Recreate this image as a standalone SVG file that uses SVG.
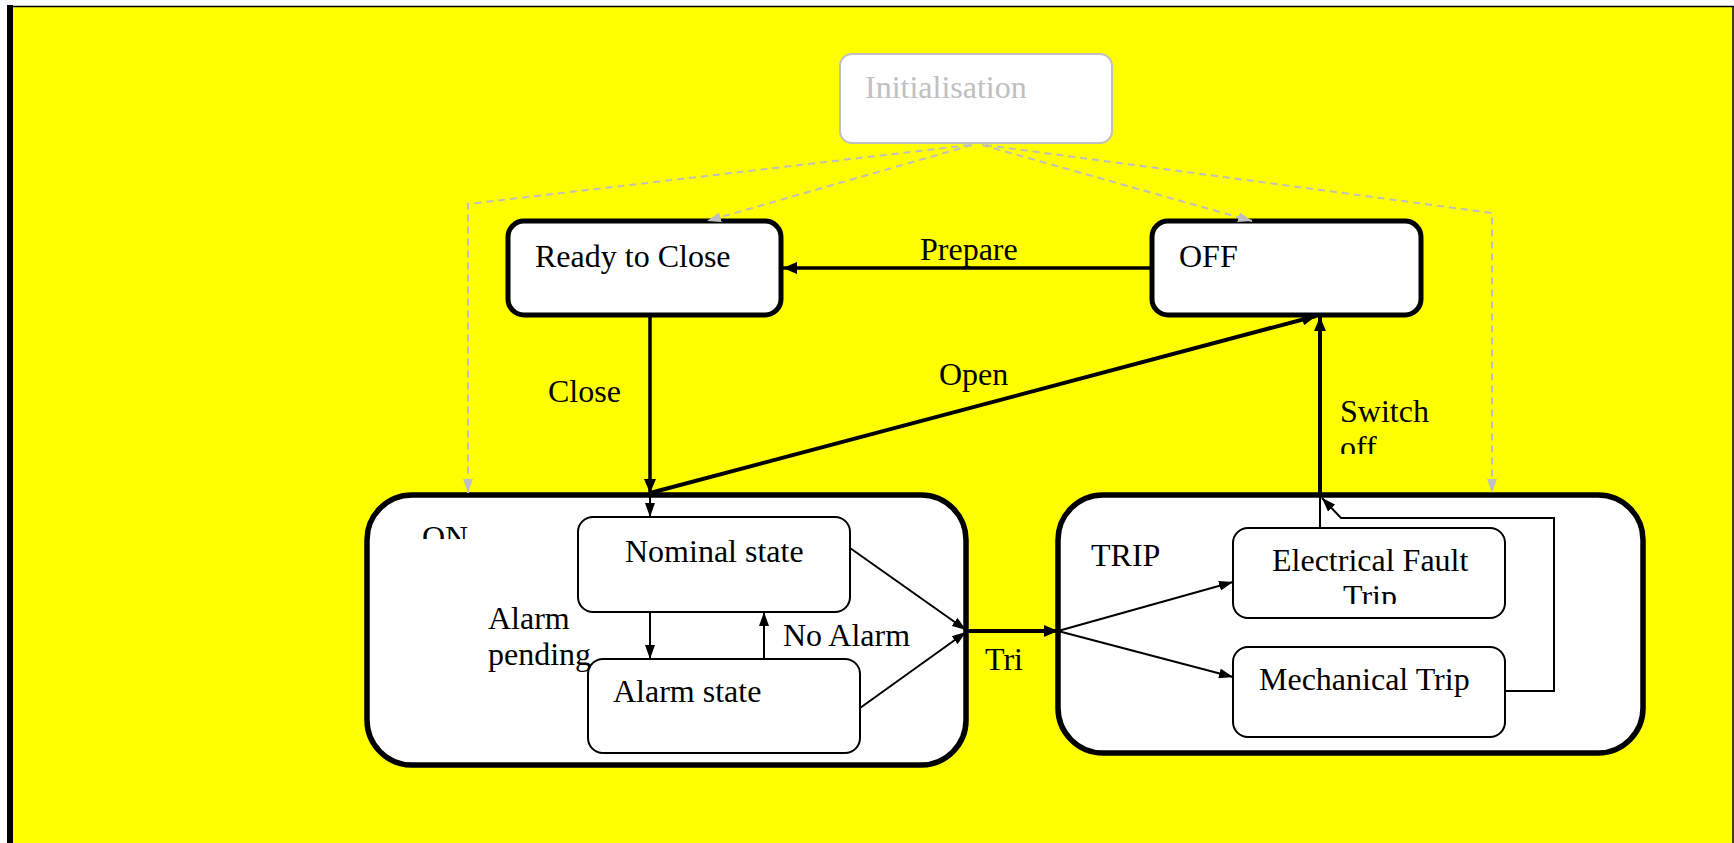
<svg xmlns="http://www.w3.org/2000/svg" width="1734" height="843" viewBox="0 0 1734 843">
<style>
text{font-family:"Liberation Serif","Times New Roman",serif;font-size:32px;fill:#000}
.big{fill:#fff;stroke:#000;stroke-width:5}
.comp{fill:#fff;stroke:#000;stroke-width:5.5}
.sub{fill:#fff;stroke:#000;stroke-width:2}
.c{fill:none;stroke:#000}
.d{fill:none;stroke:#c0c0c0;stroke-width:2;stroke-dasharray:7,5}
</style>
<defs>
<marker id="ab" viewBox="0 0 14 12" refX="14" refY="6" markerWidth="14" markerHeight="12" markerUnits="userSpaceOnUse" orient="auto"><path d="M0,0L14,6L0,12z" fill="#000"/></marker>
<marker id="as" viewBox="0 0 14 10" refX="14" refY="5" markerWidth="14" markerHeight="10" markerUnits="userSpaceOnUse" orient="auto"><path d="M0,0L14,5L0,10z" fill="#000"/></marker>
<marker id="ag" viewBox="0 0 14 10" refX="14" refY="5" markerWidth="14" markerHeight="10" markerUnits="userSpaceOnUse" orient="auto"><path d="M0,0L14,5L0,10z" fill="#c0c0c0"/></marker>
<clipPath id="clipON"><rect x="380" y="500" width="120" height="39"/></clipPath>
<clipPath id="clipEFT"><rect x="1240" y="540" width="260" height="64"/></clipPath>
<clipPath id="clipSW"><rect x="1330" y="380" width="120" height="74"/></clipPath>
</defs>
<rect x="0" y="0" width="1734" height="843" fill="#fff"/>
<rect x="13" y="6" width="1721" height="837" fill="#ffff00"/>
<rect x="7" y="5" width="6" height="838" fill="#000"/>
<line x1="13" y1="6.5" x2="1734" y2="6.5" stroke="#000" stroke-width="1.5"/>
<line x1="1733" y1="6" x2="1733" y2="843" stroke="#000" stroke-width="1.5"/>

<g id="init">
<rect x="840" y="54" width="272" height="89" rx="12" fill="#fff" stroke="#c0c0c0" stroke-width="2"/>
<text x="865" y="98" style="fill:#c0c0c0">Initialisation</text>
</g>
<g id="ready">
<rect class="big" x="508" y="221" width="273" height="94" rx="16"/>
<text x="535" y="267">Ready to Close</text>
</g>
<g id="off">
<rect class="big" x="1152" y="221" width="269" height="94" rx="16"/>
<text x="1179" y="267">OFF</text>
</g>
<g id="on">
<rect class="comp" x="367" y="495" width="599" height="270" rx="45"/>
<text x="422" y="548" clip-path="url(#clipON)">ON</text>
</g>
<g id="nominal">
<rect class="sub" x="578" y="517" width="272" height="95" rx="15"/>
<text x="625" y="562">Nominal state</text>
</g>
<g id="alarm">
<rect class="sub" x="588" y="659" width="272" height="94" rx="15"/>
<text x="613" y="702">Alarm state</text>
</g>
<g id="trip">
<rect class="comp" x="1058" y="495" width="585" height="258" rx="45"/>
<text x="1091" y="566">TRIP</text>
</g>
<g id="eft">
<rect class="sub" x="1233" y="528" width="272" height="90" rx="15"/>
<text x="1272" y="571">Electrical Fault</text>
<text x="1343" y="607" clip-path="url(#clipEFT)">Trip</text>
</g>
<g id="mech">
<rect class="sub" x="1233" y="647" width="272" height="90" rx="15"/>
<text x="1259" y="690">Mechanical Trip</text>
</g>

<g id="connectors">
<path class="d" d="M970,145L468,204L468,493" marker-end="url(#ag)"/>
<path class="d" d="M972,145L707,221" marker-end="url(#ag)"/>
<path class="d" d="M982,145L1252,221" marker-end="url(#ag)"/>
<path class="d" d="M985,145L1492,213L1492,493" marker-end="url(#ag)"/>

<path class="c" stroke-width="3.5" d="M1152,268L783,268" marker-end="url(#ab)"/>
<path class="c" stroke-width="3.5" d="M650,315L650,493" marker-end="url(#ab)"/>
<path class="c" stroke-width="4" d="M650,493L1316,316" marker-end="url(#ab)"/>
<path class="c" stroke-width="2" d="M650,495L650,517" marker-end="url(#as)"/>
<path class="c" stroke-width="2" d="M650,612L650,659" marker-end="url(#as)"/>
<path class="c" stroke-width="2" d="M764,659L764,612" marker-end="url(#as)"/>
<path class="c" stroke-width="2" d="M850,548L966,630" marker-end="url(#as)"/>
<path class="c" stroke-width="2" d="M860,708L966,632" marker-end="url(#as)"/>
<path class="c" stroke-width="4" d="M966,631L1058,631" marker-end="url(#ab)"/>
<path class="c" stroke-width="2" d="M1058,631L1233,582" marker-end="url(#as)"/>
<path class="c" stroke-width="2" d="M1058,631L1233,677" marker-end="url(#as)"/>
<path class="c" stroke-width="2" d="M1320,528L1320,495"/>
<path class="c" stroke-width="4" d="M1320,497L1320,317" marker-end="url(#ab)"/>
<path class="c" stroke-width="2" d="M1505,691L1554,691L1554,518L1341,518L1322,498" marker-end="url(#as)"/>

<text x="920" y="260">Prepare</text>
<text x="548" y="402">Close</text>
<text x="939" y="385">Open</text>
<text x="1340" y="422">Switch</text>
<text x="1340" y="458" clip-path="url(#clipSW)">off</text>
<text x="488" y="629">Alarm</text>
<text x="488" y="665">pending</text>
<text x="783" y="646">No Alarm</text>
<text x="985" y="670">Tri</text>
</g>
</svg>
